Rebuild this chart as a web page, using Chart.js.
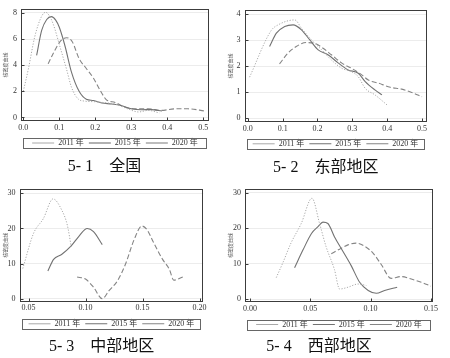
<!DOCTYPE html>
<html><head><meta charset="utf-8">
<script src="https://cdn.jsdelivr.net/npm/chart.js@4/dist/chart.umd.min.js"></script>
<style>
html,body{margin:0;padding:0;background:#fff;width:450px;height:358px;overflow:hidden;position:relative;}
canvas{position:absolute;}
</style></head><body>
<canvas id="c1" width="220" height="180" style="left:0px;top:0px"></canvas>
<canvas id="c2" width="205" height="180" style="left:225px;top:0px"></canvas>
<canvas id="c3" width="220" height="178" style="left:0px;top:180px"></canvas>
<canvas id="c4" width="245" height="178" style="left:205px;top:180px"></canvas>
<script>
// ---- labels ----
const seriesNames = ['2011 年', '2015 年', '2020 年'];
const captions = ['5- 1\u3000全国', '5- 2\u3000东部地区', '5- 3\u3000中部地区', '5- 4\u3000西部地区'];
const yAxisTitle = '核密度曲线';

// ---- tick values ----
const p1XTicks = [0, 0.1, 0.2, 0.3, 0.4, 0.5];
const p1YTicks = [0, 2, 4, 6, 8];
const p2XTicks = [0, 0.1, 0.2, 0.3, 0.4, 0.5];
const p2YTicks = [0, 1, 2, 3, 4];
const p3XTicks = [0.05, 0.10, 0.15, 0.20];
const p3YTicks = [0, 10, 20, 30];
const p4XTicks = [0, 0.05, 0.10, 0.15];
const p4YTicks = [0, 10, 20, 30];

// ---- 5-1 全国 ----
const p1x2011 = [0.000,0.014,0.032,0.051,0.062,0.072,0.083,0.102,0.120,0.134,0.153,0.171,0.200,0.230,0.255,0.290,0.320,0.347,0.378];
const p1y2011 = [2.0,3.7,6.2,7.75,8.05,7.8,7.15,5.4,3.7,2.3,1.4,1.25,1.2,1.12,1.03,0.66,0.42,0.54,0.34];
const p1x2015 = [0.037,0.051,0.065,0.078,0.090,0.100,0.116,0.134,0.155,0.175,0.195,0.218,0.245,0.273,0.300,0.329,0.356,0.385];
const p1y2015 = [4.75,6.66,7.5,7.72,7.45,6.9,5.45,3.45,2.0,1.4,1.3,1.1,1.03,0.9,0.66,0.59,0.6,0.49];
const p1x2020 = [0.069,0.083,0.102,0.120,0.136,0.155,0.175,0.195,0.213,0.231,0.255,0.282,0.310,0.347,0.384,0.420,0.458,0.505];
const p1y2020 = [4.1,4.9,5.8,6.1,5.8,4.5,3.75,3.0,2.1,1.35,1.15,0.8,0.66,0.66,0.54,0.66,0.66,0.49];

// ---- 5-2 东部地区 ----
const p2x2011 = [0.005,0.067,0.087,0.135,0.154,0.183,0.212,0.240,0.270,0.298,0.317,0.337,0.365,0.400];
const p2y2011 = [1.58,3.37,3.59,3.78,3.46,3.01,2.63,2.24,1.92,1.79,1.6,1.15,0.9,0.51];
const p2x2015 = [0.0625,0.082,0.106,0.130,0.154,0.178,0.202,0.230,0.260,0.288,0.317,0.337,0.365,0.385];
const p2y2015 = [2.76,3.27,3.53,3.59,3.40,3.01,2.63,2.44,2.12,1.86,1.73,1.41,1.09,0.90];
const p2x2020 = [0.091,0.115,0.139,0.168,0.192,0.216,0.240,0.270,0.298,0.327,0.346,0.375,0.409,0.442,0.471,0.500];
const p2y2020 = [2.09,2.50,2.76,2.91,2.88,2.69,2.44,2.12,1.92,1.67,1.47,1.35,1.19,1.12,0.99,0.83];

// ---- 5-3 中部地区 ----
const p3x2011 = [0.045,0.0544,0.063,0.0715,0.0795,0.084,0.0875];
const p3y2011 = [8.6,18.6,22.8,28.4,25.0,21.0,14.8];
const p3x2015 = [0.067,0.072,0.079,0.087,0.094,0.1015,0.107,0.1147];
const p3y2015 = [7.9,11.2,12.6,14.9,17.7,20.0,19.1,15.4];
const p3x2020 = [0.0926,0.100,0.107,0.1147,0.1206,0.128,0.135,0.1426,0.1494,0.154,0.160,0.1676,0.1735,0.1774,0.1853];
const p3y2020 = [6.2,5.6,3.3,0.0,2.3,5.1,9.8,16.8,20.7,19.6,15.8,11.2,8.4,5.3,6.2];

// ---- 5-4 西部地区 ----
const p4x2011 = [0.0218,0.0273,0.034,0.0425,0.0514,0.0577,0.063,0.070,0.0743,0.0812,0.0895,0.0964];
const p4y2011 = [6.1,10.3,15.8,21.3,28.4,21.3,14.9,8.4,2.9,3.4,4.3,3.9];
const p4x2015 = [0.037,0.044,0.051,0.0564,0.0605,0.0646,0.070,0.077,0.084,0.0909,0.098,0.1047,0.1116,0.122];
const p4y2015 = [8.9,13.9,18.5,20.4,21.7,21.3,17.6,13.5,9.4,4.8,2.5,1.7,2.5,3.4];
const p4x2020 = [0.0674,0.0743,0.0812,0.088,0.095,0.102,0.1088,0.117,0.1254,0.1337,0.142,0.150];
const p4y2020 = [12.8,14.1,15.3,15.8,14.9,13.0,9.8,5.9,6.4,5.7,4.8,3.7];

// ---- styles ----
const SERIF = "'Liberation Serif','Noto Sans CJK SC',serif";
const lineStyles = [
  {color: '#a8a8a8', dash: [1.2, 1.6], width: 1},
  {color: '#727272', dash: [], width: 1.1},
  {color: '#858585', dash: [5, 2.5], width: 1.1}
];
const LEG_PAD = 5;

const framePlugin = {
  id: 'frame',
  afterDraw(chart) {
    const {ctx, chartArea: a, scales} = chart;
    const x = scales.x, y = scales.y;
    ctx.save();
    ctx.strokeStyle = '#3c3c3c';
    ctx.lineWidth = 1;
    const L = Math.round(a.left) + 0.5, R = Math.round(a.right) - 0.5;
    const T = Math.round(a.top) + 0.5, B = Math.round(a.bottom) - 0.5;
    ctx.strokeRect(L, T, R - L, B - T);
    ctx.beginPath();
    x.ticks.forEach(t => { const px = Math.round(x.getPixelForValue(t.value)) + 0.5; ctx.moveTo(px, B); ctx.lineTo(px, B - 3); });
    y.ticks.forEach(t => { const py = Math.round(y.getPixelForValue(t.value)) + 0.5; ctx.moveTo(L, py); ctx.lineTo(L + 3, py); });
    ctx.stroke();
    // legend frame
    const lg = chart.legend;
    const cy = lg.top + LEG_PAD + 4;
    ctx.strokeStyle = '#666';
    ctx.strokeRect(L + 2, Math.round(cy - 5) + 0.5, R - L - 4, 10);
    ctx.restore();
  }
};

function makeChart(id, s) {
  const xs = [s.x2011, s.x2015, s.x2020];
  const ys = [s.y2011, s.y2015, s.y2020];
  const datasets = seriesNames.map((name, i) => ({
    label: name,
    data: xs[i].map((v, j) => ({x: v, y: ys[i][j]})),
    borderColor: lineStyles[i].color,
    backgroundColor: 'rgba(0,0,0,0)',
    borderDash: lineStyles[i].dash,
    borderWidth: lineStyles[i].width,
    pointRadius: 0,
    pointStyle: 'line',
    cubicInterpolationMode: 'monotone',
    fill: false
  }));
  return new Chart(document.getElementById(id), {
    type: 'line',
    data: {datasets},
    plugins: [framePlugin],
    options: {
      responsive: false,
      animation: false,
      devicePixelRatio: 1,
      layout: {padding: {left: 0, right: s.padRight, top: s.padTop, bottom: 0}},
      plugins: {
        tooltip: {enabled: false},
        legend: {
          position: 'bottom', fullSize: false, align: 'center',
          labels: {
            usePointStyle: true, pointStyle: 'line', pointStyleWidth: 22,
            padding: LEG_PAD, color: '#333',
            font: {family: SERIF, size: 8}
          }
        },
        title: {
          display: true, position: 'bottom', text: s.caption, color: '#111',
          font: {family: SERIF, size: 16, weight: 'normal', lineHeight: 1},
          padding: {top: s.titleTop, bottom: s.titleBottom}
        }
      },
      scales: {
        x: {
          type: 'linear', min: s.xMin, max: s.xMax,
          afterBuildTicks: sc => { sc.ticks = s.xTicks.map(v => ({value: v})); },
          afterFit: sc => { sc.height = s.xH; },
          grid: {display: false, drawTicks: false},
          border: {display: false},
          ticks: {padding: 2, color: '#333', font: {family: SERIF, size: 8}, maxRotation: 0,
                  callback: v => Number(v).toFixed(s.xDec)}
        },
        y: {
          type: 'linear', min: s.yMin, max: s.yMax,
          afterBuildTicks: sc => { sc.ticks = s.yTicks.map(v => ({value: v})); },
          afterFit: sc => { sc.width = s.yW; },
          grid: {color: '#ececec', lineWidth: 1, drawTicks: false},
          border: {display: false},
          ticks: {padding: 4, color: '#333', font: {family: SERIF, size: 8},
                  callback: v => String(v)},
          title: {display: true, text: yAxisTitle, color: '#555',
                  font: {family: "'Noto Sans CJK SC',sans-serif", size: 5, lineHeight: 1.2},
                  padding: {top: s.yTitlePad, bottom: 0}}
        }
      }
    }
  });
}

makeChart('c1', {
  caption: captions[0], x2011: p1x2011, y2011: p1y2011, x2015: p1x2015, y2015: p1y2015, x2020: p1x2020, y2020: p1y2020,
  xTicks: p1XTicks, yTicks: p1YTicks, xDec: 1,
  xMin: -0.0064, xMax: 0.5158, yMin: -0.272, yMax: 8.316,
  padRight: 11, padTop: 4, yW: 21, xH: 13, titleTop: 2, titleBottom: 5, yTitlePad: 2
});
makeChart('c2', {
  caption: captions[1], x2011: p2x2011, y2011: p2y2011, x2015: p2x2015, y2015: p2y2015, x2020: p2x2020, y2020: p2y2020,
  xTicks: p2XTicks, yTicks: p2YTicks, xDec: 1,
  xMin: -0.0095, xMax: 0.5129, yMin: -0.142, yMax: 4.161,
  padRight: 3.5, padTop: 10, yW: 19.5, xH: 12.8, titleTop: 2.2, titleBottom: 4, yTitlePad: 2
});
makeChart('c3', {
  caption: captions[2], x2011: p3x2011, y2011: p3y2011, x2015: p3x2015, y2015: p3y2015, x2020: p3x2020, y2020: p3y2020,
  xTicks: p3XTicks, yTicks: p3YTicks, xDec: 2,
  xMin: 0.0421, xMax: 0.2033, yMin: -0.78, yMax: 31.28,
  padRight: 16.7, padTop: 6.7, yW: 19.5, xH: 13.3, titleTop: 0.9, titleBottom: 3.3, yTitlePad: 2
});
makeChart('c4', {
  caption: captions[3], x2011: p4x2011, y2011: p4y2011, x2015: p4x2015, y2015: p4y2015, x2020: p4x2020, y2020: p4y2020,
  xTicks: p4XTicks, yTicks: p4YTicks, xDec: 2,
  xMin: -0.0041, xMax: 0.1517, yMin: -0.83, yMax: 31.05,
  padRight: 17, padTop: 6.5, yW: 40, xH: 13.2, titleTop: 0.2, titleBottom: 3.3, yTitlePad: 22
});
</script>
</body></html>
